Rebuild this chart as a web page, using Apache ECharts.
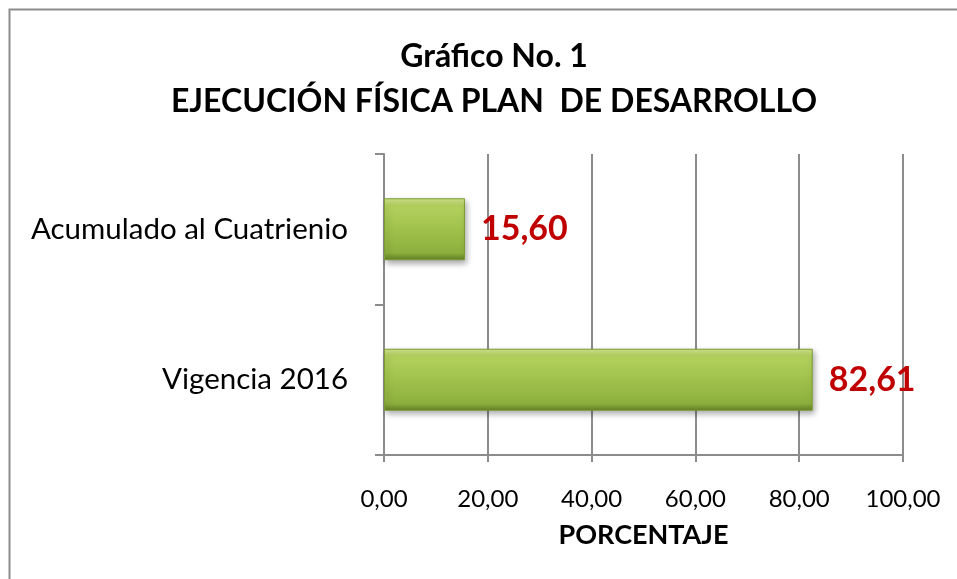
<!DOCTYPE html>
<html>
<head>
<meta charset="utf-8">
<script src="https://cdn.jsdelivr.net/npm/echarts@6/dist/echarts.min.js"></script>
<style>
  html, body { margin: 0; padding: 0; background: #fff; }
  #chart { width: 957px; height: 579px; }
</style>
</head>
<body>
<div id="chart"></div>
<script>
var categories = ['Vigencia 2016', 'Acumulado al Cuatrienio'];
var values = [82.61, 15.60];
var xTicks = [0, 20, 40, 60, 80, 100];

var chartDom = document.getElementById('chart');
var myChart = echarts.init(chartDom);
var option;

var font = 'Lato, "Noto Sans", sans-serif';

option = {
  animation: false,
  title: {
    text: 'Gráfico No. 1\nEJECUCIÓN FÍSICA PLAN  DE DESARROLLO',
    left: 489,
    textAlign: 'center',
    top: 29,
    textStyle: {
      fontFamily: font,
      fontWeight: 'bold',
      fontSize: 32,
      lineHeight: 45,
      color: '#000'
    }
  },
  graphic: [
    {
      type: 'rect',
      shape: { x: 9.5, y: 9.5, width: 1000, height: 700 },
      style: { fill: 'none', stroke: '#8c8c8c', lineWidth: 2 },
      silent: true
    }
  ],
  grid: {
    left: 384,
    right: 54,
    top: 154,
    bottom: 124
  },
  xAxis: {
    type: 'value',
    min: xTicks[0],
    max: xTicks[xTicks.length - 1],
    interval: 20,
    name: 'PORCENTAJE',
    nameLocation: 'middle',
    nameGap: 67,
    nameTextStyle: {
      fontFamily: font,
      fontWeight: 'bold',
      fontSize: 27,
      color: '#000'
    },
    axisLine: { show: true, lineStyle: { color: '#8c8c8c', width: 2 } },
    axisTick: { show: true, length: 7, lineStyle: { color: '#8c8c8c', width: 2 } },
    splitLine: { show: true, lineStyle: { color: '#8c8c8c', width: 2 } },
    axisLabel: {
      margin: 32,
      fontFamily: font,
      fontSize: 24,
      color: '#000',
      formatter: function (v) { return v.toFixed(2).replace('.', ','); }
    }
  },
  yAxis: {
    type: 'category',
    data: categories,
    axisLine: { show: true, lineStyle: { color: '#8c8c8c', width: 2 } },
    axisTick: { show: true, length: 9, lineStyle: { color: '#8c8c8c', width: 2 } },
    axisLabel: {
      margin: 36,
      fontFamily: font,
      fontSize: 29.5,
      color: '#000'
    }
  },
  series: [
    {
      type: 'bar',
      data: values,
      barWidth: 62,
      itemStyle: {
        color: new echarts.graphic.LinearGradient(0, 0, 0, 1, [
          { offset: 0, color: '#d3e68e' },
          { offset: 0.12, color: '#b3d15e' },
          { offset: 0.5, color: '#a0c24b' },
          { offset: 0.88, color: '#8daf3e' },
          { offset: 1, color: '#627f26' }
        ]),
        borderColor: '#7d9c33',
        borderWidth: 1,
        shadowColor: 'rgba(0,0,0,0.35)',
        shadowBlur: 6,
        shadowOffsetX: 2,
        shadowOffsetY: 3
      },
      label: {
        show: true,
        position: 'right',
        distance: 16,
        fontFamily: font,
        fontWeight: 'bold',
        fontSize: 34,
        color: '#c00000',
        formatter: function (p) { return p.value.toFixed(2).replace('.', ','); }
      }
    }
  ]
};

option && myChart.setOption(option);
</script>
</body>
</html>
